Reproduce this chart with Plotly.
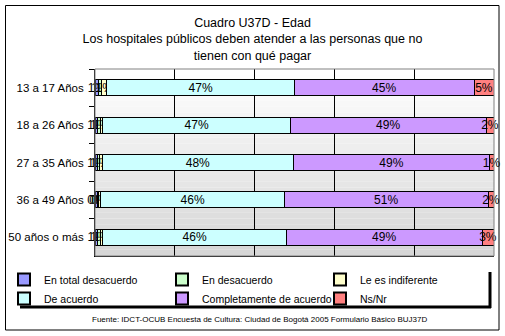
import plotly.graph_objects as go

categories = ["13 a 17 Años", "18 a 26 Años", "27 a 35 Años", "36 a 49 Años", "50 años o más"]
series_names = ["En total desacuerdo", "En desacuerdo", "Le es indiferente",
                "De acuerdo", "Completamente de acuerdo", "Ns/Nr"]
en_total_desacuerdo = [0.8, 0.6, 0.6, 0.5, 0.7]
en_desacuerdo = [0.9, 0.7, 0.6, 0.5, 0.6]
le_es_indiferente = [1.3, 0.7, 0.6, 0.5, 0.7]
de_acuerdo = [47, 47, 48, 46, 46]
completamente = [45, 49, 49, 51, 49]
ns_nr = [5, 2, 1.2, 1.5, 3]
values = [en_total_desacuerdo, en_desacuerdo, le_es_indiferente, de_acuerdo, completamente, ns_nr]
colors = ["#9999FF", "#CCFFCC", "#FFFFCC", "#CCFFFF", "#CC99FF", "#FF8080"]

FONT = "Liberation Sans, Arial, sans-serif"

fig = go.Figure()
for name, vals, col in zip(series_names, values, colors):
    fig.add_trace(go.Bar(
        y=categories, x=vals, name=name, orientation="h",
        marker=dict(color=col, line=dict(color="black", width=1)),
        width=0.43,
        text=[f"{round(v):.0f}%" for v in vals],
        textposition="inside", insidetextanchor="middle",
        constraintext="none", textangle=0, cliponaxis=False,
        textfont=dict(color="black", size=12, family=FONT),
        hoverinfo="skip",
    ))

# pixel -> paper helpers (plot area: x 95..494, y 69..256)
L, R, T, B = 95, 494, 69, 256
def px(x):
    return (x - L) / (R - L)
def py(y):
    return (B - y) / (B - T)

shapes = []
# gradient background of plot area
n = 30
for i in range(n):
    f = i / (n - 1)
    g = int(round(255 - (255 - 214) * f))
    shapes.append(dict(type="rect", xref="x domain", yref="y domain",
                       x0=0, x1=1, y0=1 - i / n, y1=1 - (i + 1) / n,
                       fillcolor=f"rgb({g},{g},{g})", line=dict(width=0),
                       layer="below"))
# plot area grey border
shapes.append(dict(type="rect", xref="x domain", yref="y domain", x0=0, x1=1, y0=0, y1=1,
                   line=dict(color="#808080", width=1), layer="above"))
# outer chart border
shapes.append(dict(type="rect", xref="paper", yref="paper",
                   x0=px(5.5), x1=px(499), y0=py(330), y1=py(5.5),
                   line=dict(color="black", width=1)))
# legend shadow
shapes.append(dict(type="line", xref="paper", yref="paper",
                   x0=px(20), x1=px(491), y0=py(307), y1=py(307),
                   line=dict(color="black", width=3)))
shapes.append(dict(type="line", xref="paper", yref="paper",
                   x0=px(490), x1=px(490), y0=py(272), y1=py(308),
                   line=dict(color="black", width=3)))

fig.update_layout(
    width=505, height=336,
    margin=dict(l=L, r=505 - R, t=T, b=336 - B, autoexpand=False),
    paper_bgcolor="white", plot_bgcolor="white",
    barmode="stack", bargap=0.57,
    font=dict(family=FONT, size=11, color="black"),
    title=dict(
        text="Cuadro U37D - Edad<br>Los hospitales públicos deben atender a las personas que no<br>tienen con qué pagar",
        x=0.5, xref="container", xanchor="center",
        y=1 - 27 / 336, yref="container", yanchor="top",
        font=dict(family=FONT, size=12.5, color="black"),
    ),
    xaxis=dict(range=[0, 100], dtick=20, showticklabels=False, showgrid=True,
               gridcolor="black", gridwidth=1, zeroline=False, automargin=False,
               showline=True, linecolor="black", linewidth=1, ticks=""),
    yaxis=dict(autorange="reversed", type="category", showgrid=False, automargin=False,
               showline=True, linecolor="black", linewidth=1,
               ticks="outside", ticklen=5, tickcolor="black", tickson="boundaries",
               ticklabelstandoff=8,
               tickfont=dict(family=FONT, size=11.5, color="black")),
    legend=dict(orientation="h", x=px(4), y=py(265), xanchor="left", yanchor="top",
                entrywidth=113, entrywidthmode="pixels", traceorder="normal",
                font=dict(family=FONT, size=10.5, color="black"),
                bgcolor="rgba(0,0,0,0)", tracegroupgap=0, itemsizing="constant"),
    shapes=shapes,
    annotations=[dict(
        text="Fuente: IDCT-OCUB Encuesta de Cultura: Ciudad de Bogotá 2005 Formulario Básico BUJ37D",
        xref="paper", yref="paper", x=px(260), y=py(319), xanchor="center", yanchor="middle",
        showarrow=False, font=dict(family=FONT, size=8, color="black"),
    )],
)

fig.write_html("out.html")
